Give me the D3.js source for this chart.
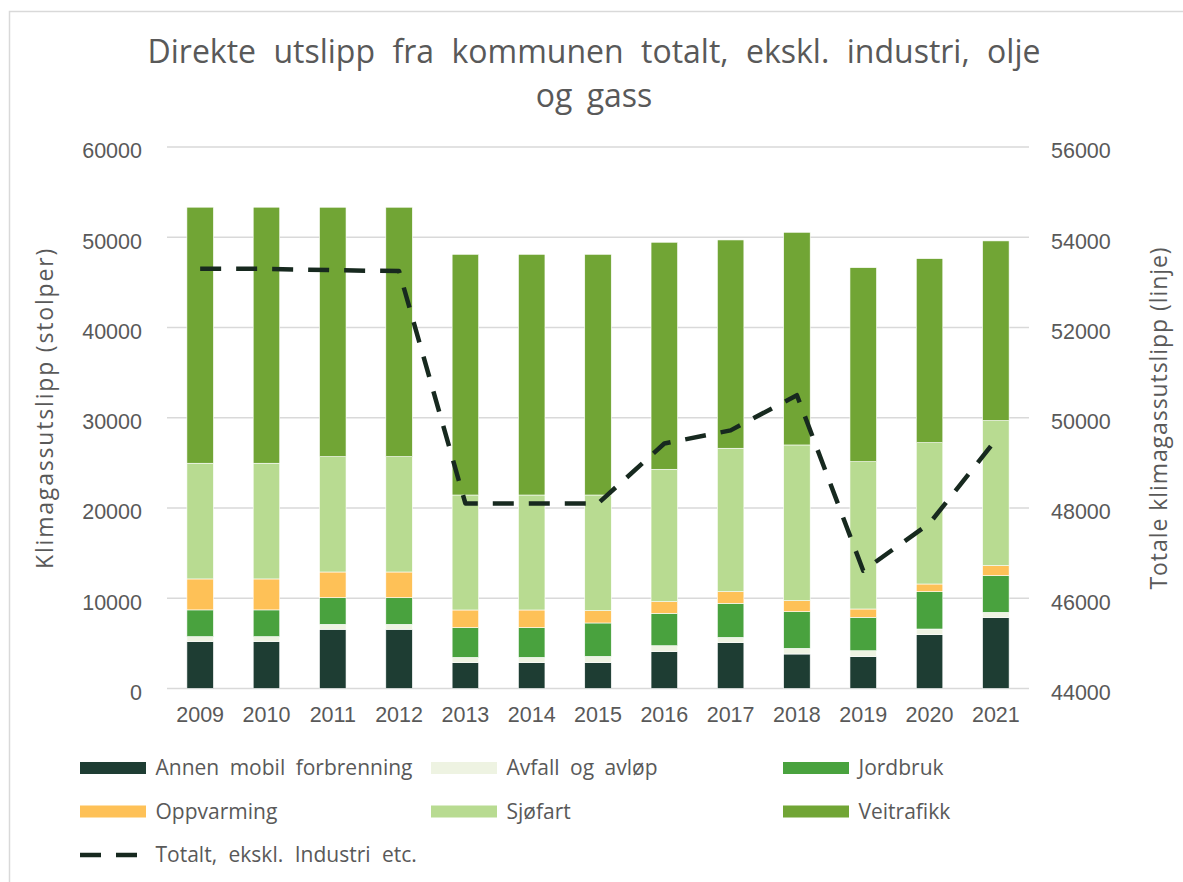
<!DOCTYPE html>
<html>
<head>
<meta charset="utf-8">
<script src="https://cdn.jsdelivr.net/npm/d3@7"></script>
<style>
  html, body { margin: 0; padding: 0; background: #fff; }
  svg { display: block; font-family: "Open Sans", sans-serif; }
  .tick text { fill: #595959; font-size: 21.5px; }
</style>
</head>
<body>
<svg id="chart" width="1183" height="882"></svg>
<script>
const years = ['2009', '2010', '2011', '2012', '2013', '2014', '2015', '2016', '2017', '2018', '2019', '2020', '2021'];

const annenMobil = [5200, 5200, 6560, 6560, 2860, 2860, 2860, 4080, 5075, 3820, 3525, 5960, 7850];
const avfall     = [550, 550, 550, 550, 590, 590, 700, 660, 590, 630, 660, 630, 590];
const jordbruk   = [2960, 2960, 2950, 2950, 3290, 3290, 3700, 3590, 3775, 4060, 3705, 4135, 4065];
const oppvarming = [3430, 3430, 2850, 2850, 1960, 1960, 1360, 1290, 1290, 1220, 920, 855, 1110];
const sjofart    = [12820, 12820, 12780, 12780, 12740, 12740, 12820, 14670, 15890, 17255, 16320, 15660, 16070];
const veitrafikk = [28370, 28370, 27635, 27635, 26670, 26670, 26670, 25155, 23080, 23565, 21500, 20390, 19910];

// line on the right axis
const totalt = [53300, 53300, 53270, 53250, 48100, 48100, 48100, 49430, 49720, 50500, 46610, 47660, 49510];

const leftTicks = [0, 10000, 20000, 30000, 40000, 50000, 60000];
const rightTicks = [44000, 46000, 48000, 50000, 52000, 54000, 56000];

const series = [
    { key: 'Annen mobil forbrenning', values: annenMobil, color: '#1e3d33' },
    { key: 'Avfall og avløp', values: avfall, color: '#eef3e2' },
    { key: 'Jordbruk', values: jordbruk, color: '#49a23e' },
    { key: 'Oppvarming', values: oppvarming, color: '#fec157' },
    { key: 'Sjøfart', values: sjofart, color: '#b8db91' },
    { key: 'Veitrafikk', values: veitrafikk, color: '#71a535' }
];
const lineName = 'Totalt, ekskl. Industri etc.';
const lineColor = '#17291f';

const svg = d3.select('#chart');
const TEXT = '#595959';

// outer chart border
svg.append('rect')
    .attr('x', 9.5).attr('y', 11.5)
    .attr('width', 1200).attr('height', 900)
    .attr('fill', 'none').attr('stroke', '#d9d9d9').attr('stroke-width', 1.5);

const x = d3.scaleBand().domain(years).range([167, 1029]).paddingInner(0.6).paddingOuter(0.3);
const yL = d3.scaleLinear().domain([0, 60000]).range([688.5, 147]);
const yR = d3.scaleLinear().domain([44000, 56000]).range([688.5, 147]);

// gridlines
svg.append('g')
    .selectAll('line')
    .data(leftTicks)
    .join('line')
    .attr('x1', 167).attr('x2', 1029)
    .attr('y1', d => yL(d)).attr('y2', d => yL(d))
    .attr('stroke', '#d9d9d9').attr('stroke-width', 1.6);

// stacked bars
const table = years.map((yr, i) => {
    const row = { year: yr };
    series.forEach(s => { row[s.key] = s.values[i]; });
    return row;
});
const stack = d3.stack().keys(series.map(s => s.key))(table);

svg.append('g')
    .selectAll('g')
    .data(stack)
    .join('g')
    .attr('fill', (d, i) => series[i].color)
    .selectAll('rect')
    .data(d => d)
    .join('rect')
    .attr('x', d => x(d.data.year))
    .attr('width', x.bandwidth())
    .attr('y', d => yL(d[1]))
    .attr('height', d => yL(d[0]) - yL(d[1]))
    .attr('stroke', '#fff').attr('stroke-width', 0.6);

// total line
const line = d3.line()
    .x((d, i) => x(years[i]) + x.bandwidth() / 2)
    .y(d => yR(d));

svg.append('path')
    .datum(totalt)
    .attr('d', line)
    .attr('fill', 'none')
    .attr('stroke', lineColor)
    .attr('stroke-width', 4.5)
    .attr('stroke-dasharray', '21,15')
    .attr('stroke-linejoin', 'round');

// axes
const axL = svg.append('g')
    .attr('transform', 'translate(167,0)')
    .call(d3.axisLeft(yL).tickValues(leftTicks).tickFormat(d3.format('d')).tickSize(0).tickPadding(25));
axL.select('.domain').remove();
axL.selectAll('text').attr('dy', '0.5em');

const axR = svg.append('g')
    .attr('transform', 'translate(1029,0)')
    .call(d3.axisRight(yR).tickValues(rightTicks).tickFormat(d3.format('d')).tickSize(0).tickPadding(22));
axR.select('.domain').remove();
axR.selectAll('text').attr('dy', '0.5em');

const axB = svg.append('g')
    .attr('transform', 'translate(0,688.5)')
    .call(d3.axisBottom(x).tickSize(0).tickPadding(18));
axB.select('.domain').remove();

// spread text out to the length it has in the original
function fitWords(sel, target) {
    const w = sel.node().getComputedTextLength();
    const n = sel.text().split(' ').length - 1;
    sel.attr('word-spacing', Math.max(0, (target - w) / n));
}
function fitLetters(sel, target) {
    const w = sel.node().getComputedTextLength();
    const n = sel.text().length;
    sel.attr('letter-spacing', Math.max(0, (target - w) / n));
}

const tl = svg.append('text')
    .attr('transform', 'translate(53,408) rotate(-90)')
    .attr('text-anchor', 'middle')
    .attr('fill', TEXT).attr('font-size', 23)
    .text('Klimagassutslipp (stolper)');
fitLetters(tl, 322);

const tr = svg.append('text')
    .attr('transform', 'translate(1167,418) rotate(-90)')
    .attr('text-anchor', 'middle')
    .attr('fill', TEXT).attr('font-size', 23)
    .text('Totale klimagassutslipp (linje)');
fitLetters(tr, 343);

// title
const titleLines = ['Direkte utslipp fra kommunen totalt, ekskl. industri, olje', 'og gass'];
const title = svg.append('g').attr('fill', TEXT).attr('font-size', 32);
const t1 = title.append('text')
    .attr('x', 594).attr('y', 63).attr('text-anchor', 'middle')
    .text(titleLines[0]);
fitWords(t1, 893);
title.append('text')
    .attr('x', 594).attr('y', 107).attr('text-anchor', 'middle')
    .attr('word-spacing', 6)
    .text(titleLines[1]);

// legend
const legX = [80, 431, 783];
const legY = [768, 811.5, 855];
const leg = svg.append('g').attr('font-size', 21).attr('fill', TEXT);
series.forEach((s, i) => {
    const gx = legX[i % 3], gy = legY[Math.floor(i / 3)];
    leg.append('rect')
        .attr('x', gx).attr('y', gy - 6).attr('width', 66).attr('height', 12)
        .attr('fill', s.color);
    leg.append('text')
        .attr('x', gx + 75.5).attr('y', gy).attr('dy', '0.35em')
        .attr('word-spacing', 5)
        .text(s.key);
});
leg.append('line')
    .attr('x1', legX[0]).attr('x2', legX[0] + 58)
    .attr('y1', legY[2]).attr('y2', legY[2])
    .attr('stroke', lineColor).attr('stroke-width', 4.5)
    .attr('stroke-dasharray', '21,15');
leg.append('text')
    .attr('x', legX[0] + 75.5).attr('y', legY[2]).attr('dy', '0.35em')
    .attr('word-spacing', 6)
    .text(lineName);
</script>
</body>
</html>
